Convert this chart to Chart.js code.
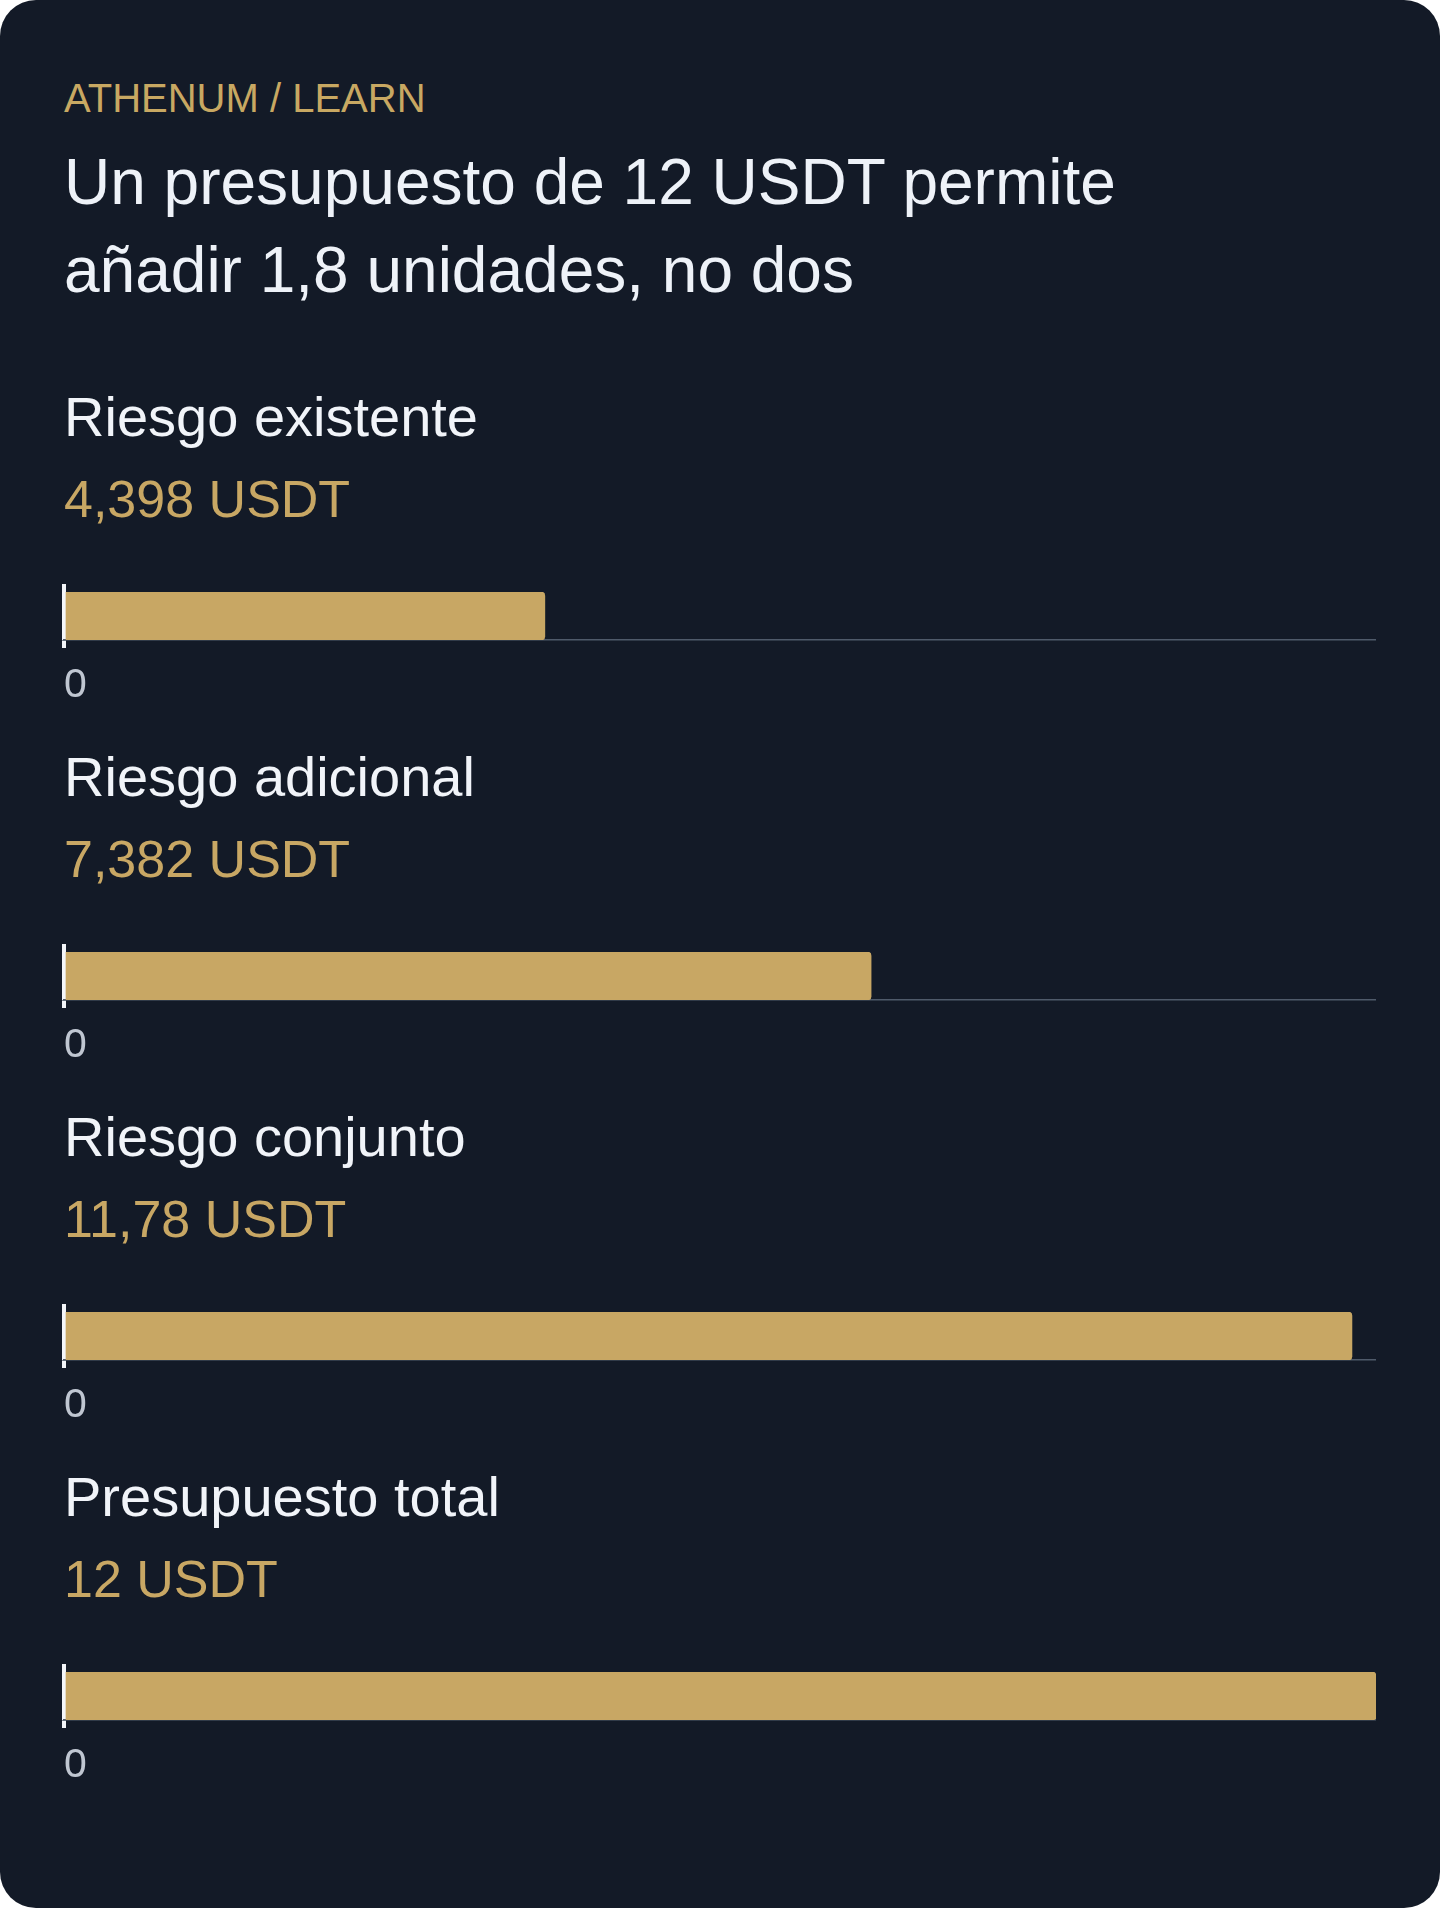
<!DOCTYPE html>
<html lang="es">
<head>
<meta charset="utf-8">
<title>Presupuesto de riesgo</title>
<script src="https://cdn.jsdelivr.net/npm/chart.js@4.4.1/dist/chart.umd.min.js"></script>
<style>
    html, body {
        margin: 0;
        padding: 0;
        background: #ffffff;
    }
    .card {
        position: relative;
        width: 1440px;
        height: 1908px;
        background: #131a27;
        border-radius: 36px;
        overflow: hidden;
        font-family: "Liberation Sans", Arial, Helvetica, sans-serif;
    }
    .eyebrow {
        position: absolute;
        left: 64px;
        top: 74px;
        font-size: 40px;
        line-height: 48px;
        color: #c8a862;
    }
    .title {
        position: absolute;
        left: 64px;
        top: 138px;
        width: 1120px;
        font-size: 64px;
        line-height: 88px;
        color: #eef2f8;
    }
    .label {
        position: absolute;
        left: 64px;
        font-size: 56px;
        line-height: 67px;
        color: #f1f4f9;
    }
    .value {
        position: absolute;
        left: 64px;
        font-size: 52px;
        line-height: 62px;
        color: #c8a764;
    }
    .chart-box {
        position: absolute;
        left: 51px;
        width: 1325px;
        height: 124px;
    }
</style>
</head>
<body>
<div class="card" id="card">
    <div class="eyebrow">ATHENUM / LEARN</div>
    <div class="title">Un presupuesto de 12 USDT permite añadir 1,8 unidades, no dos</div>
</div>

<script>
// Values
const categories = ['Riesgo existente', 'Riesgo adicional', 'Riesgo conjunto', 'Presupuesto total'];
const values = [4.398, 7.382, 11.78, 12];
const valueLabels = ['4,398 USDT', '7,382 USDT', '11,78 USDT', '12 USDT'];
const axisMin = 0;
const axisMax = 12;
const tickValues = [0];

Chart.defaults.font.family = '"Liberation Sans", Arial, Helvetica, sans-serif';

const card = document.getElementById('card');
const gold = '#c8a764';

// keep only the zero tick on both x axes
function keepZero(axis) {
    axis.ticks = axis.ticks.filter(t => tickValues.includes(t.value));
}

for (let i = 0; i < categories.length; i++) {
    const offset = i * 360;

    const label = document.createElement('div');
    label.className = 'label';
    label.style.top = (383 + offset) + 'px';
    label.textContent = categories[i];
    card.appendChild(label);

    const val = document.createElement('div');
    val.className = 'value';
    val.style.top = (468 + offset) + 'px';
    val.textContent = valueLabels[i];
    card.appendChild(val);

    const box = document.createElement('div');
    box.className = 'chart-box';
    box.style.top = (584 + offset) + 'px';
    const canvas = document.createElement('canvas');
    box.appendChild(canvas);
    card.appendChild(box);

    new Chart(canvas.getContext('2d'), {
        type: 'bar',
        data: {
            labels: [categories[i]],
            datasets: [{
                data: [values[i]],
                backgroundColor: gold,
                borderRadius: 4,
                borderSkipped: 'start',
                barPercentage: 1,
                categoryPercentage: 1
            }]
        },
        options: {
            indexAxis: 'y',
            responsive: true,
            maintainAspectRatio: false,
            animation: false,
            layout: { padding: 0 },
            plugins: {
                legend: { display: false },
                tooltip: { enabled: false }
            },
            scales: {
                y: {
                    display: false
                },
                x: {
                    type: 'linear',
                    position: 'bottom',
                    min: axisMin,
                    max: axisMax,
                    afterBuildTicks: keepZero,
                    afterFit: function(scale) { scale.height = 68; },
                    grid: {
                        color: '#f3f5f9',
                        lineWidth: 4,
                        drawOnChartArea: false,
                        tickLength: 8
                    },
                    border: {
                        display: true,
                        color: '#4f5a6a',
                        width: 1.5
                    },
                    ticks: {
                        align: 'start',
                        padding: 13,
                        color: '#bfc6d1',
                        font: { size: 41 }
                    }
                },
                xTop: {
                    type: 'linear',
                    position: 'top',
                    min: axisMin,
                    max: axisMax,
                    z: 1,
                    afterBuildTicks: keepZero,
                    afterFit: function(scale) { scale.height = 8; },
                    grid: {
                        color: '#f3f5f9',
                        lineWidth: 4,
                        tickLength: 8
                    },
                    border: { display: false },
                    ticks: { display: false }
                }
            }
        }
    });
}
</script>
</body>
</html>
